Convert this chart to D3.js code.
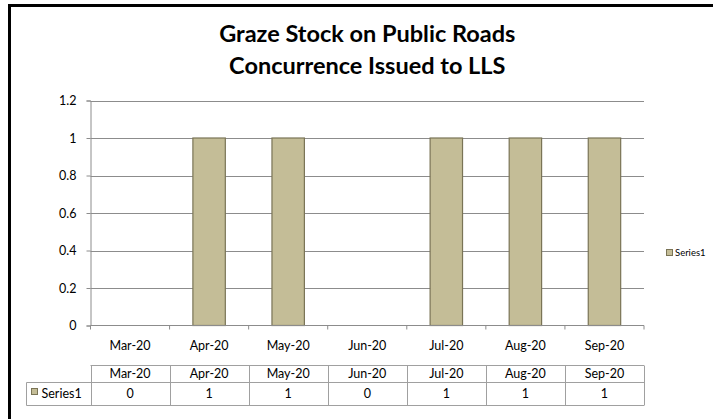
<!DOCTYPE html>
<html>
<head>
<meta charset="utf-8">
<script src="https://cdn.jsdelivr.net/npm/d3@7"></script>
<style>
  body { margin: 0; background: #fff; }
  svg text { font-family: Lato, "Open Sans", sans-serif; fill: #000; }
</style>
</head>
<body>
<div id="chart"></div>
<script>
// data
const months = ['Mar-20', 'Apr-20', 'May-20', 'Jun-20', 'Jul-20', 'Aug-20', 'Sep-20'];
const series1 = [0, 1, 1, 0, 1, 1, 1];
const yTicks = [0, 0.2, 0.4, 0.6, 0.8, 1, 1.2];
const seriesName = 'Series1';
const titleLines = ['Graze Stock on Public Roads', 'Concurrence Issued to LLS'];

const width = 713, height = 419;
const plot = { left: 90.5, right: 644, top: 100.5, bottom: 325.5 };

var svg = d3.select('#chart')
    .append('svg')
    .attr('width', width)
    .attr('height', height);

svg.append('rect').attr('width', width).attr('height', height).attr('fill', '#fff');

// black frame (only top + left are in the picture)
svg.append('line').attr('x1', 8).attr('x2', width).attr('y1', 5.5).attr('y2', 5.5)
    .attr('stroke', '#000').attr('stroke-width', 3);
svg.append('line').attr('x1', 9.5).attr('x2', 9.5).attr('y1', 4).attr('y2', height)
    .attr('stroke', '#000').attr('stroke-width', 3);

// title
svg.append('g').selectAll('text')
    .data(titleLines)
    .join('text')
    .attr('x', (plot.left + plot.right) / 2)
    .attr('y', (d, i) => 41.5 + i * 32)
    .attr('text-anchor', 'middle')
    .style('font-size', '23.5px')
    .style('font-weight', 'bold')
    .text(d => d);

var x = d3.scaleBand()
    .domain(months)
    .range([plot.left, plot.right])
    .paddingInner(0.59)
    .paddingOuter(0.295);

var y = d3.scaleLinear()
    .domain([0, 1.2])
    .range([plot.bottom, plot.top]);

// gridlines
svg.append('g').selectAll('line')
    .data(yTicks.filter(d => d > 0))
    .join('line')
    .attr('x1', plot.left).attr('x2', plot.right)
    .attr('y1', d => Math.round(y(d)) + 0.5).attr('y2', d => Math.round(y(d)) + 0.5)
    .attr('stroke', '#8c8c8c');

// y axis
var yAxis = svg.append('g')
    .attr('transform', 'translate(' + plot.left + ',0)')
    .call(d3.axisLeft(y).tickValues(yTicks).tickSize(4).tickPadding(10).tickFormat(d3.format('~g')));
yAxis.select('.domain').attr('stroke', '#8c8c8c');
yAxis.selectAll('.tick line').attr('stroke', '#8c8c8c');
yAxis.selectAll('.tick text').style('font-size', '12.5px').attr('fill', '#000');
yAxis.attr('font-family', null);

// bars
svg.append('g').selectAll('rect')
    .data(series1)
    .join('rect')
    .attr('x', (d, i) => x(months[i]))
    .attr('y', d => y(d))
    .attr('width', x.bandwidth())
    .attr('height', d => y(0) - y(d))
    .attr('fill', '#c4bd97')
    .attr('stroke', '#7a7456')
    .attr('stroke-width', 1.2);

// x axis line with ticks between categories
var bounds = months.map(m => x(m) - x.step() * x.paddingInner() / 2).concat([plot.right]);
svg.append('line')
    .attr('x1', plot.left).attr('x2', plot.right)
    .attr('y1', plot.bottom).attr('y2', plot.bottom)
    .attr('stroke', '#8c8c8c');
svg.append('g').selectAll('line')
    .data(bounds)
    .join('line')
    .attr('x1', d => d).attr('x2', d => d)
    .attr('y1', plot.bottom).attr('y2', plot.bottom + 4)
    .attr('stroke', '#8c8c8c');

svg.append('g').selectAll('text')
    .data(months)
    .join('text')
    .attr('x', d => x(d) + x.bandwidth() / 2)
    .attr('y', 349.5)
    .attr('text-anchor', 'middle')
    .style('font-size', '12.5px')
    .text(d => d);

// data table
const tTop = 365.5, tMid = 382.5, tBot = 405.5, tLeft = 26.5;
var table = svg.append('g').attr('stroke', '#a0a0a0').attr('fill', 'none');
table.append('line').attr('x1', plot.left).attr('x2', plot.right).attr('y1', tTop).attr('y2', tTop);
table.append('line').attr('x1', tLeft).attr('x2', plot.right).attr('y1', tMid).attr('y2', tMid);
table.append('line').attr('x1', tLeft).attr('x2', plot.right).attr('y1', tBot).attr('y2', tBot);
table.append('line').attr('x1', tLeft).attr('x2', tLeft).attr('y1', tMid).attr('y2', tBot);
table.selectAll('line.v')
    .data(bounds)
    .join('line')
    .attr('class', 'v')
    .attr('x1', d => Math.round(d) + 0.5).attr('x2', d => Math.round(d) + 0.5)
    .attr('y1', tTop).attr('y2', tBot);

svg.append('g').selectAll('text')
    .data(months)
    .join('text')
    .attr('x', d => x(d) + x.bandwidth() / 2)
    .attr('y', 378)
    .attr('text-anchor', 'middle')
    .style('font-size', '12.5px')
    .text(d => d);

svg.append('g').selectAll('text')
    .data(series1)
    .join('text')
    .attr('x', (d, i) => x(months[i]) + x.bandwidth() / 2)
    .attr('y', 398)
    .attr('text-anchor', 'middle')
    .style('font-size', '12.5px')
    .text(d => d);

svg.append('rect')
    .attr('x', 31.5).attr('y', 388.5).attr('width', 6).attr('height', 6)
    .attr('fill', '#c4bd97').attr('stroke', '#7a7456');
svg.append('text')
    .attr('x', 41.5).attr('y', 397.5)
    .style('font-size', '12.5px')
    .text(seriesName);

// legend
svg.append('rect')
    .attr('x', 666.5).attr('y', 249.5).attr('width', 6).attr('height', 6)
    .attr('fill', '#c4bd97').attr('stroke', '#7a7456');
svg.append('text')
    .attr('x', 675).attr('y', 256)
    .style('font-size', '9.5px')
    .text(seriesName);
</script>
</body>
</html>
